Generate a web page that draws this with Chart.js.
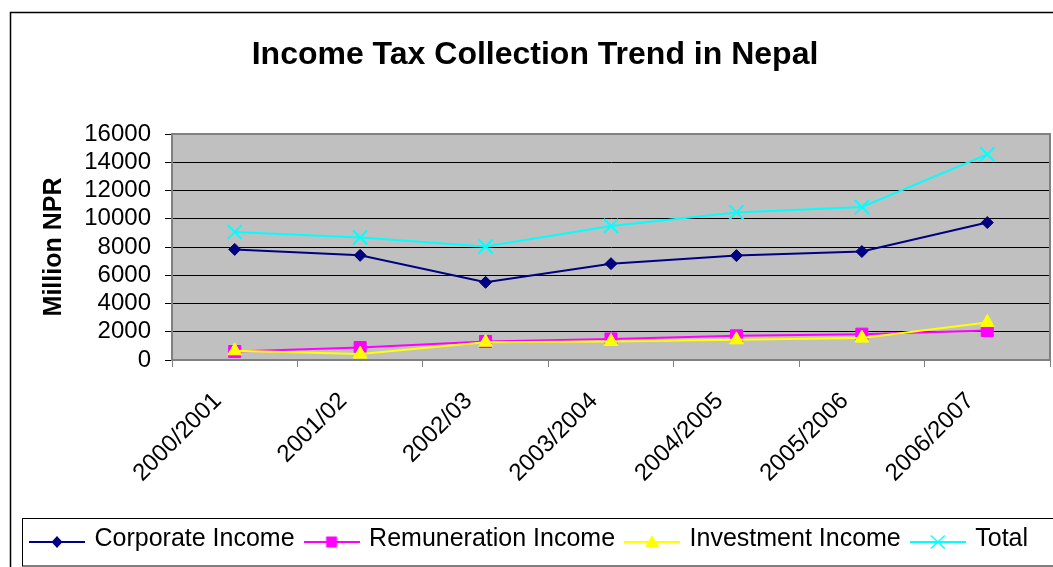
<!DOCTYPE html>
<html>
<head>
<meta charset="utf-8">
<title>Income Tax Collection Trend in Nepal</title>
<script src="https://cdn.jsdelivr.net/npm/chart.js@4.4.1/dist/chart.umd.min.js"></script>
<style>
  html, body { margin: 0; padding: 0; background: #fff; }
  canvas { display: block; }
</style>
</head>
<body>
<canvas id="taxChart" width="1053" height="567"></canvas>
<script>
// fiscal years and collections (million NPR)
const years = ['2000/2001', '2001/02', '2002/03', '2003/2004', '2004/2005', '2005/2006', '2006/2007'];
const corporateIncome = [7830, 7410, 5500, 6820, 7390, 7680, 9730];
const remunerationIncome = [600, 880, 1310, 1490, 1710, 1830, 2090];
const investmentIncome = [650, 420, 1260, 1310, 1430, 1550, 2660];
const totalIncome = [9060, 8680, 8040, 9490, 10450, 10830, 14560];
const yTicks = [0, 2000, 4000, 6000, 8000, 10000, 12000, 14000, 16000];

const FONT = "'Liberation Sans', Arial, sans-serif";
Chart.defaults.font.family = FONT;
Chart.defaults.color = '#000';

// small line + marker swatch for the legend
function legendIcon(color, shape) {
  const c = document.createElement('canvas');
  c.width = 56;
  c.height = 24;
  const g = c.getContext('2d');
  const cy = 15;
  g.strokeStyle = color;
  g.fillStyle = color;
  g.lineWidth = 2;
  g.beginPath();
  g.moveTo(0, cy);
  g.lineTo(56, cy);
  g.stroke();
  g.beginPath();
  if (shape === 'diamond') {
    g.moveTo(28, cy - 6); g.lineTo(33.5, cy); g.lineTo(28, cy + 6); g.lineTo(22.5, cy);
    g.closePath(); g.fill();
  } else if (shape === 'square') {
    g.fillRect(22.5, cy - 5.5, 11, 11);
  } else if (shape === 'triangle') {
    g.moveTo(28, cy - 7); g.lineTo(35, cy + 5); g.lineTo(21, cy + 5);
    g.closePath(); g.fill();
  } else {
    g.lineWidth = 1.5;
    g.moveTo(21, cy - 6.5); g.lineTo(35, cy + 6.5);
    g.moveTo(35, cy - 6.5); g.lineTo(21, cy + 6.5);
    g.stroke();
  }
  return c;
}

const series = [
  { label: 'Corporate Income', data: corporateIncome, color: '#000080', style: 'rectRot', radius: 6, icon: 'diamond', order: 4 },
  { label: 'Remuneration Income', data: remunerationIncome, color: '#ff00ff', style: 'rect', radius: 8.5, icon: 'square', order: 3 },
  { label: 'Investment Income', data: investmentIncome, color: '#ffff00', style: 'triangle', radius: 8, icon: 'triangle', order: 2 },
  { label: 'Total', data: totalIncome, color: '#00ffff', style: 'crossRot', radius: 10, icon: 'cross', order: 1 }
];
const icons = series.map(s => legendIcon(s.color, s.icon));

// grey plot background, plot border and the outer frames
const chartFrame = {
  id: 'chartFrame',
  beforeDraw(chart) {
    const { ctx, chartArea: a } = chart;
    ctx.save();
    ctx.fillStyle = '#ffffff';
    ctx.fillRect(0, 0, chart.width, chart.height);
    ctx.fillStyle = '#c0c0c0';
    ctx.fillRect(a.left, a.top, a.right - a.left, a.bottom - a.top);
    ctx.restore();
  },
  beforeDatasetsDraw(chart) {
    const { ctx, chartArea: a } = chart;
    ctx.save();
    ctx.strokeStyle = '#808080';
    ctx.lineWidth = 2;
    ctx.strokeRect(a.left, a.top, a.right - a.left, a.bottom - a.top);
    ctx.restore();
  },
  afterDraw(chart) {
    const { ctx } = chart;
    const lg = chart.legend;
    ctx.save();
    ctx.strokeStyle = '#000';
    ctx.lineWidth = 1.5;
    ctx.strokeRect(10.5, 12.5, chart.width + 20, chart.height + 20);
    ctx.lineWidth = 1;
    ctx.strokeRect(22.5, Math.round(lg.top) + 3.5, chart.width, 47.5);
    ctx.restore();
  }
};

new Chart(document.getElementById('taxChart'), {
  type: 'line',
  data: {
    labels: years,
    datasets: series.map(s => ({
      label: s.label,
      data: s.data,
      order: s.order,
      borderColor: s.color,
      backgroundColor: s.color,
      borderWidth: 2,
      pointStyle: s.style,
      pointRadius: s.radius,
      pointBackgroundColor: s.color,
      pointBorderColor: s.color,
      pointBorderWidth: s.style === 'crossRot' ? 2 : 1,
      fill: false,
      tension: 0
    }))
  },
  options: {
    responsive: false,
    animation: false,
    layout: { autoPadding: false, padding: { left: 20, right: 3, top: 0, bottom: 5.5 } },
    scales: {
      x: {
        offset: true,
        grid: { offset: true, drawOnChartArea: false, tickLength: 7, color: '#808080' },
        border: { color: '#808080', width: 2 },
        ticks: {
          autoSkip: false,
          minRotation: 45,
          maxRotation: 45,
          padding: 20,
          labelOffset: -17,
          font: { size: 24 }
        },
        afterFit(scale) {
          scale.height = 154.5;
          scale.paddingLeft = 0;
          scale.paddingRight = 0;
        }
      },
      y: {
        min: 0,
        max: 16000,
        afterBuildTicks(scale) { scale.ticks = yTicks.map(v => ({ value: v })); },
        grid: { color: '#000', lineWidth: 1, tickLength: 7, tickColor: '#000' },
        border: { color: '#808080', width: 2 },
        ticks: {
          autoSkip: false,
          padding: 14,
          font: { size: 24 },
          callback: v => String(v)
        },
        title: {
          display: true,
          text: 'Million NPR',
          font: { size: 25, weight: 'bold' },
          padding: { top: 19, bottom: 0 }
        },
        afterFit(scale) { scale.width = 152; }
      }
    },
    plugins: {
      title: {
        display: true,
        text: 'Income Tax Collection Trend in Nepal',
        font: { size: 32, weight: 'bold' },
        color: '#000',
        padding: { top: 36, bottom: 59.6 }
      },
      legend: {
        position: 'bottom',
        align: 'start',
        labels: {
          font: { size: 25 },
          color: '#000',
          usePointStyle: true,
          pointStyleWidth: 50,
          padding: 12,
          generateLabels: chart => chart.data.datasets.map((ds, i) => ({
            text: ds.label,
            pointStyle: icons[i],
            datasetIndex: i,
            hidden: false,
            lineWidth: 0,
            fillStyle: ds.borderColor,
            strokeStyle: ds.borderColor,
            fontColor: '#000'
          }))
        }
      },
      tooltip: { enabled: false }
    }
  },
  plugins: [chartFrame]
});
</script>
</body>
</html>
